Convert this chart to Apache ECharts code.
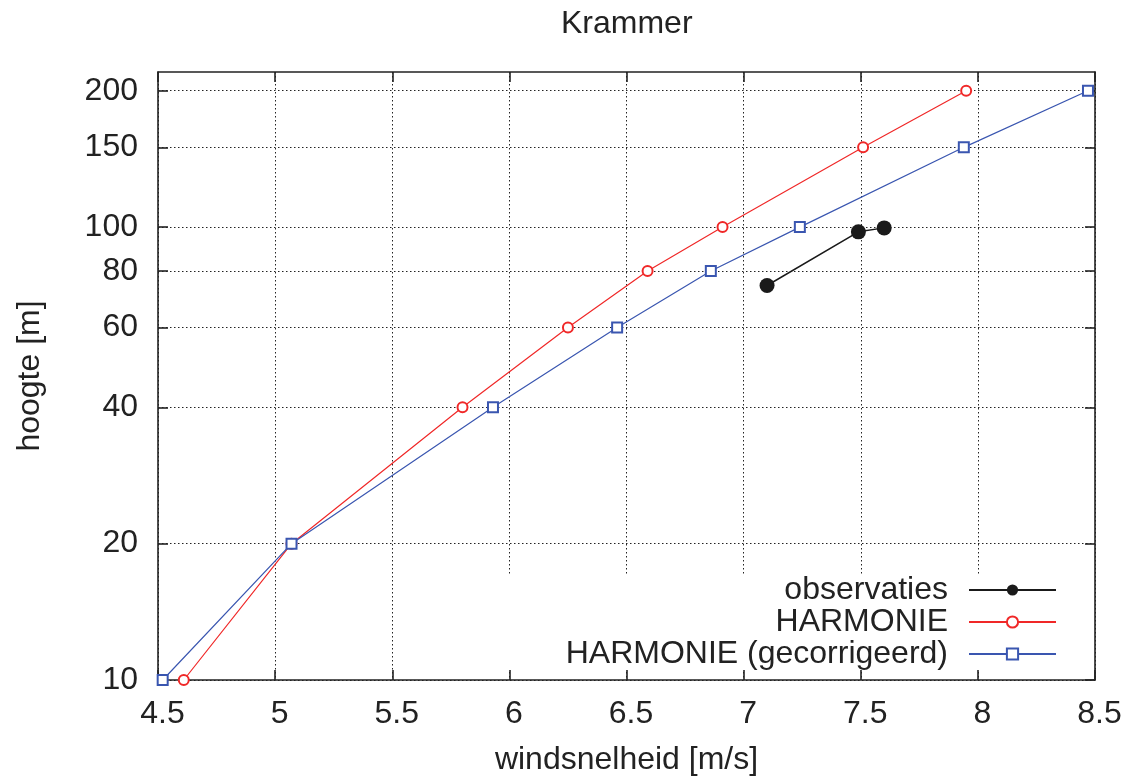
<!DOCTYPE html>
<html>
<head>
<meta charset="utf-8">
<script src="https://cdn.jsdelivr.net/npm/echarts@6/dist/echarts.min.js"></script>
<style>
  html, body { margin: 0; padding: 0; background: #ffffff; }
  #chart { width: 1128px; height: 781px; }
</style>
</head>
<body>
<div id="chart"></div>
<script>
// ---- data ----
const heights = [10, 20, 40, 60, 80, 100, 150, 200];
const harmonie = [4.61, 5.07, 5.80, 6.25, 6.59, 6.91, 7.51, 7.95];
const harmonieCorr = [4.52, 5.07, 5.93, 6.46, 6.86, 7.24, 7.94, 8.47];
const obsSpeed = [7.10, 7.49, 7.60];
const obsHeights = [74.3, 97.6, 99.6];
const yTickValues = [10, 20, 40, 60, 80, 100, 150, 200];
const seriesNames = ['observaties', 'HARMONIE', 'HARMONIE (gecorrigeerd)'];
const titleText = 'Krammer';
const xName = 'windsnelheid [m/s]';
const yName = 'hoogte [m]';

const FONT = 'Liberation Sans, Arial, Helvetica, sans-serif';
const FS = 32;
const TXT = '#222222';
const FRAME = { color: '#222222', width: 1.6 };
const GRIDLINE = { color: '#222222', width: 1, type: [1.5, 2.5] };

function pairs(xs, ys) { return xs.map((x, i) => [x, ys[i]]); }

const chart = echarts.init(document.getElementById('chart'), null, { renderer: 'canvas' });

const option = {
  animation: false,
  backgroundColor: '#ffffff',
  textStyle: { fontFamily: FONT },
  title: {
    text: titleText,
    left: 561, top: 8, padding: 0,
    textStyle: { fontFamily: FONT, fontSize: FS, fontWeight: 'normal', color: TXT }
  },
  grid: { left: 158, right: 33, top: 72, bottom: 101, containLabel: false, outerBoundsMode: 'none' },
  legend: {
    orient: 'vertical', align: 'right',
    right: 61, top: 574,
    itemWidth: 87, itemHeight: 14, itemGap: 0,
    padding: [0, 10, 0, 100],
    backgroundColor: '#ffffff',
    selectedMode: false,
    textStyle: { fontFamily: FONT, fontSize: FS, color: TXT, lineHeight: 32, padding: [0, 16, 0, 0] },
    data: seriesNames
  },
  xAxis: [{
    type: 'value', position: 'bottom',
    min: 4.5, max: 8.5, interval: 0.5,
    name: xName, nameLocation: 'middle', nameGap: 64,
    nameTextStyle: { fontFamily: FONT, fontSize: FS, color: TXT },
    axisLine: { show: true, onZero: false, lineStyle: FRAME },
    axisTick: { show: true, inside: true, length: 10, lineStyle: FRAME },
    axisLabel: { show: true, fontFamily: FONT, fontSize: FS, color: TXT, margin: 18, padding: [0, 0, 0, 9], hideOverlap: false, showMinLabel: true, showMaxLabel: true },
    splitLine: { show: true, lineStyle: GRIDLINE }
  }, {
    type: 'value', position: 'top',
    min: 4.5, max: 8.5, interval: 0.5,
    axisLine: { show: true, onZero: false, lineStyle: FRAME },
    axisTick: { show: true, inside: true, length: 10, lineStyle: FRAME },
    axisLabel: { show: false },
    splitLine: { show: false }
  }],
  yAxis: [{
    type: 'log', logBase: 10, position: 'left',
    min: 10, max: 220,
    name: yName, nameLocation: 'middle', nameGap: 112, nameRotate: 90,
    nameTextStyle: { fontFamily: FONT, fontSize: FS, color: TXT },
    axisLine: { show: true, onZero: false, lineStyle: FRAME },
    axisTick: { show: true, inside: true, length: 10, lineStyle: FRAME, customValues: yTickValues },
    axisLabel: { show: true, fontFamily: FONT, fontSize: FS, color: TXT, margin: 20, customValues: yTickValues, formatter: v => String(Math.round(v)) },
    splitLine: { show: true, lineStyle: GRIDLINE },
    minorTick: { show: false }
  }, {
    type: 'log', logBase: 10, position: 'right',
    min: 10, max: 220,
    axisLine: { show: true, onZero: false, lineStyle: FRAME },
    axisTick: { show: true, inside: true, length: 10, lineStyle: FRAME, customValues: yTickValues },
    axisLabel: { show: false },
    splitLine: { show: false }
  }],
  series: [{
    name: seriesNames[0], type: 'line',
    xAxisIndex: 0, yAxisIndex: 0,
    data: pairs(obsSpeed, obsHeights),
    symbol: 'circle', symbolSize: 15,
    itemStyle: { color: '#1a1a1a' },
    lineStyle: { color: '#1a1a1a', width: 1.5 },
    z: 5
  }, {
    name: seriesNames[1], type: 'line',
    xAxisIndex: 0, yAxisIndex: 0,
    data: pairs(harmonie, heights),
    symbol: 'emptyCircle', symbolSize: 10,
    itemStyle: { color: '#f02828', borderWidth: 1.2 },
    lineStyle: { color: '#f02828', width: 1.2 },
    z: 3
  }, {
    name: seriesNames[2], type: 'line',
    xAxisIndex: 0, yAxisIndex: 0,
    data: pairs(harmonieCorr, heights),
    symbol: 'emptyRect', symbolSize: 10,
    itemStyle: { color: '#3a56b0', borderWidth: 1.2 },
    lineStyle: { color: '#3a56b0', width: 1.2 },
    z: 4
  }]
};

chart.setOption(option);
</script>
</body>
</html>
